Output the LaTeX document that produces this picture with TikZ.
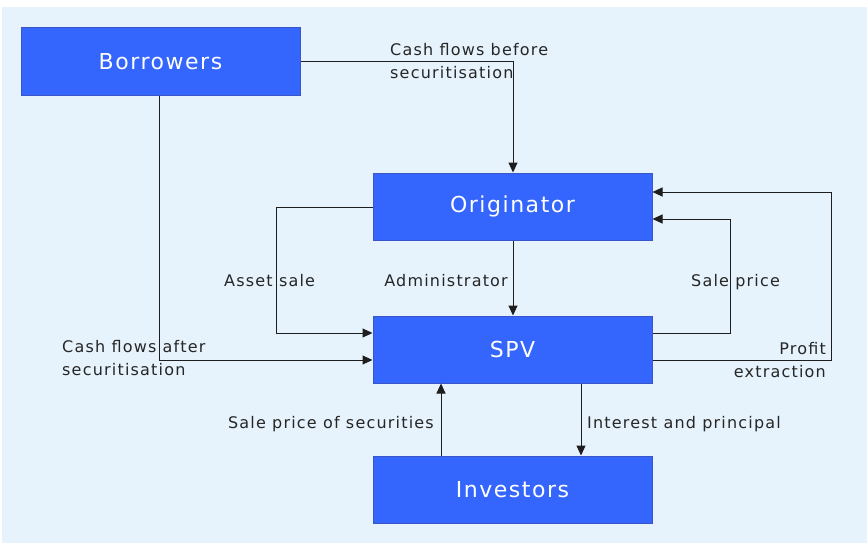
\documentclass[tikz,border=0pt]{standalone}
\usepackage{fontspec}
\setmainfont{DejaVu Sans}
\newfontfamily\labfont[LetterSpace=7.5]{DejaVu Sans}
\newfontfamily\boxfont[LetterSpace=7]{DejaVu Sans}
\usetikzlibrary{arrows.meta}
\definecolor{bgblue}{HTML}{E6F3FC}
\definecolor{boxfill}{HTML}{3465FD}
\definecolor{boxline}{HTML}{3A55C8}
\definecolor{linecol}{HTML}{1E1E1E}
\begin{document}
\begin{tikzpicture}[x=1pt,y=-1pt,
  box/.style={draw=boxline,line width=1pt,fill=boxfill,minimum width=279pt,minimum height=67pt,inner sep=0pt,text=white,font=\boxfont\fontsize{22}{26}\selectfont},
  conn/.style={draw=linecol,line width=1pt,-{Triangle[length=10pt,width=9pt]}},
  lab/.style={inner sep=0pt,text=black!85,font=\labfont\fontsize{16}{23}\selectfont,align=left}
]
\useasboundingbox (0,0) rectangle (867,543);
\fill[white] (0,0) rectangle (867,543);
\fill[bgblue] (2,7) rectangle (867,543);

\node[box] (bor) at (160.5,61.5) {Borrowers};
\node[box] (ori) at (512.5,206.5) {Originator};
\node[box] (spv) at (512.5,349.5) {SPV};
\node[box] (inv) at (512.5,489.5) {Investors};

% Borrowers -> Originator
\coordinate (c1) at (513,62);
\draw[conn] (bor.east |- c1) -- (c1) -- (ori.north -| c1);
\node[lab,anchor=west] (l1) at (390,61.5) {Cash flows before\\securitisation};

% Borrowers -> SPV
\coordinate (c2) at (159,360);
\draw[conn] (bor.south -| c2) -- (c2) -- (spv.west |- c2);
\node[lab,anchor=west] (l2) at (62,358.5) {Cash flows after\\securitisation};

% Originator -> SPV (asset sale)
\coordinate (c3a) at (276,207);
\coordinate (c3b) at (276,333);
\draw[conn] (ori.west |- c3a) -- (c3a) -- (c3b) -- (spv.west |- c3b);
\node[lab,anchor=base west] (l3) at (224,286) {Asset sale};

% Originator -> SPV (administrator)
\coordinate (c4) at (513,240);
\draw[conn] (ori.south -| c4) -- (spv.north -| c4);
\node[lab,anchor=base east] (l4) at (508,286) {Administrator};

% SPV -> Originator (sale price)
\coordinate (c5a) at (730,333);
\coordinate (c5b) at (730,219);
\draw[conn] (spv.east |- c5a) -- (c5a) -- (c5b) -- (ori.east |- c5b);
\node[lab,anchor=base west] (l5) at (691,286) {Sale price};

% SPV -> Originator (profit extraction)
\coordinate (c6a) at (831,360);
\coordinate (c6b) at (831,192);
\draw[conn] (spv.east |- c6a) -- (c6a) -- (c6b) -- (ori.east |- c6b);
\node[lab,anchor=east,align=right] (l6) at (826,360.5) {Profit\\extraction};

% Investors -> SPV
\coordinate (c7) at (441,456);
\draw[conn] (inv.north -| c7) -- (spv.south -| c7);
\node[lab,anchor=base east] (l7) at (434,428) {Sale price of securities};

% SPV -> Investors
\coordinate (c8) at (581,383);
\draw[conn] (spv.south -| c8) -- (inv.north -| c8);
\node[lab,anchor=base west] (l8) at (587,428) {Interest and principal};
\end{tikzpicture}
\end{document}
